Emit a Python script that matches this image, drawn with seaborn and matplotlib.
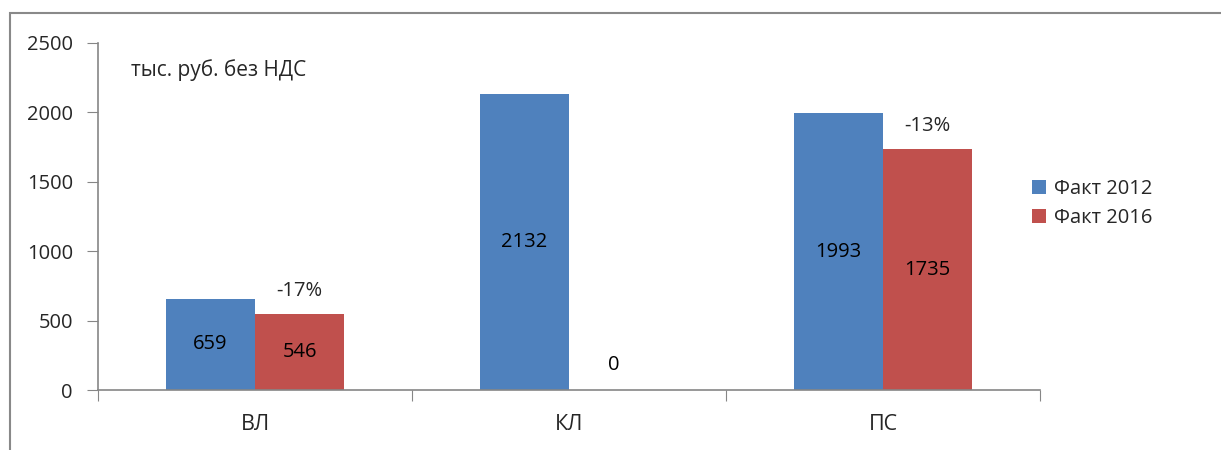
import pandas as pd
import numpy as np
import seaborn as sns
import matplotlib.pyplot as plt
from matplotlib.patches import Rectangle

categories = ['ВЛ', 'КЛ', 'ПС']
fact_2012 = [659, 2132, 1993]
fact_2016 = [546, 0, 1735]
series = ['Факт 2012', 'Факт 2016']
unit_note = 'тыс. руб. без НДС'

df = pd.DataFrame({
    'cat': categories * 2,
    'val': fact_2012 + fact_2016,
    'series': [series[0]] * 3 + [series[1]] * 3,
})

sns.set_style('white')
plt.rcParams['font.family'] = ['Open Sans', 'DejaVu Sans']

fig = plt.figure(figsize=(12.21, 4.5), dpi=100)
ax = fig.add_axes([98 / 1221, 1 - 390 / 450, (1040 - 98) / 1221, (390 - 43) / 450])

sns.barplot(data=df, x='cat', y='val', hue='series', order=categories,
            palette=['#4F81BD', '#C0504D'], saturation=1, width=0.57,
            linewidth=0, ax=ax)

# value labels in the middle of the bars
for cont in ax.containers:
    for bar in cont:
        h = bar.get_height()
        x = bar.get_x() + bar.get_width() / 2
        y = h / 2 if h > 0 else 180
        ax.text(x, y, f'{h:.0f}', ha='center', va='center', fontsize=14.5, color='black')

# change % above the 2016 bars
for i, (a, b) in enumerate(zip(fact_2012, fact_2016)):
    if b == 0:
        continue
    bar = ax.containers[1][i]
    pct = (b - a) / a * 100
    ax.text(bar.get_x() + bar.get_width() / 2, b + 170, f'{pct:.0f}%',
            ha='center', va='center', fontsize=14.5)

ax.text(0.035, 0.922, unit_note, transform=ax.transAxes, fontsize=15, va='center')

ax.set_ylim(0, 2500)
ax.set_yticks(np.arange(0, 2501, 500))
ax.set_xlim(-0.5, 2.5)
ax.set_xticks([-0.5, 0.5, 1.5, 2.5])
ax.set_xticklabels([])
ax.set_xticks([0, 1, 2], minor=True)
ax.set_xticklabels(categories, minor=True)
ax.tick_params(axis='x', which='major', length=8, color='#868686', direction='out', bottom=True)
ax.tick_params(axis='x', which='minor', length=0, labelsize=15.5, pad=17)
ax.tick_params(axis='y', length=8, color='#868686', direction='out', left=True, labelsize=14.5, pad=10)
ax.set_xlabel('')
ax.set_ylabel('')
for s in ['top', 'right']:
    ax.spines[s].set_visible(False)
for s in ['left', 'bottom']:
    ax.spines[s].set_color('#868686')
    ax.spines[s].set_linewidth(1.2)

leg = ax.legend(loc='upper left', bbox_to_anchor=(1014 / 1221, 1 - 161 / 450),
                bbox_transform=fig.transFigure, frameon=False, fontsize=14.5,
                handlelength=0.7, handleheight=0.7, handletextpad=0.4, labelspacing=0.45)

fig.patches.append(Rectangle((10 / 1221, -0.1), 1.2, 1 - 13 / 450 + 0.1,
                             transform=fig.transFigure, fill=False,
                             edgecolor='#898989', linewidth=1.5))

fig.savefig('out.png', dpi=100)
